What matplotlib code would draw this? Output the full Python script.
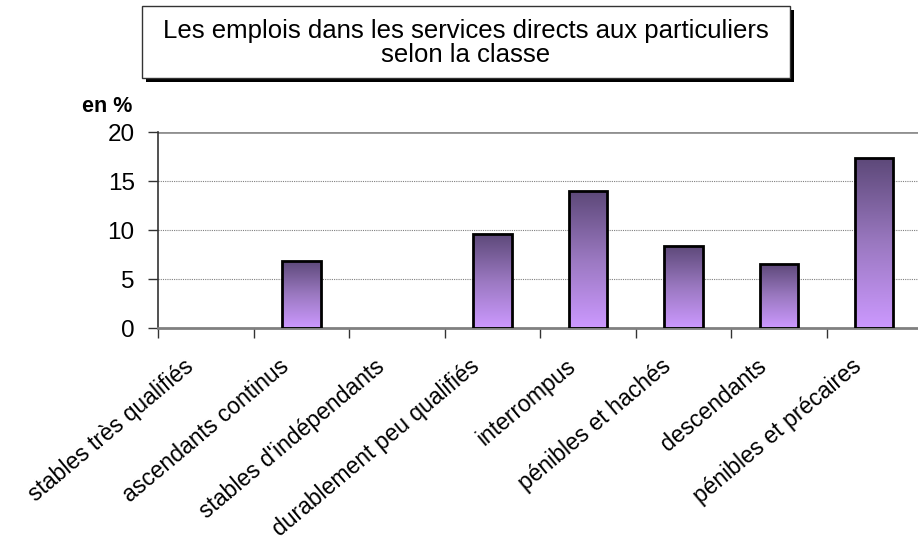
import numpy as np
import matplotlib.pyplot as plt
from matplotlib import patches
from matplotlib.colors import LinearSegmentedColormap

plt.rcParams['font.family'] = ['Liberation Sans', 'DejaVu Sans']

categories = [
    "stables très qualifiés",
    "ascendants continus",
    "stables d'indépendants",
    "durablement peu qualifiés",
    "interrompus",
    "pénibles et hachés",
    "descendants",
    "pénibles et précaires",
]
values = [0, 6.9, 0, 9.6, 14.0, 8.4, 6.6, 17.4]
yticks = [0, 5, 10, 15, 20]

W, H = 918, 541
fig = plt.figure(figsize=(W / 100, H / 100), dpi=100)
ax = fig.add_axes([158.3 / W, 1 - 328.3 / H, (922.1 - 158.3) / W, 196 / H])

x = np.arange(len(categories))
bars = ax.bar(x, values, width=0.4, facecolor="none", edgecolor="black",
              linewidth=2, zorder=3)

# vertical gradient inside each bar, dark at the top
cmap = LinearSegmentedColormap.from_list("lav", ["#cc99ff", "#9a78c0", "#5c4878"])
grad = np.linspace(0, 1, 256).reshape(-1, 1)
for b in bars:
    h = b.get_height()
    if h <= 0:
        b.set_visible(False)
        continue
    x0 = b.get_x()
    im = ax.imshow(grad, cmap=cmap, origin="lower", aspect="auto",
                   extent=(x0, x0 + b.get_width(), 0, h), zorder=2)
    im.set_clip_path(b)

ax.set_xlim(-0.5, len(categories) - 0.5)
ax.set_ylim(0, 20)
ax.set_yticks(yticks)
ax.set_yticklabels([str(v) for v in yticks], fontsize=17.5)

# category boundaries carry the tick marks, labels sit at the centres
ax.set_xticks(np.arange(len(categories) + 1) - 0.5)
ax.set_xticklabels([])
ax.tick_params(axis="x", direction="out", length=7, width=1, color="#333333")
ax.tick_params(axis="y", direction="out", length=7, width=1, color="#333333", pad=10)
for i, name in enumerate(categories):
    ax.text(i - 0.24, -2.7, name, rotation=40, ha="right", va="top",
            rotation_mode="anchor", fontsize=16.5)

for v in yticks[1:-1]:
    ax.axhline(v, color="#808080", linewidth=0.8, linestyle=(0, (1, 1)), zorder=1)
ax.axhline(20, color="#909090", linewidth=2, zorder=1)

for side in ["top", "right"]:
    ax.spines[side].set_visible(False)
ax.spines["left"].set_color("#333333")
ax.spines["left"].set_linewidth(1.2)
ax.spines["bottom"].set_color("#808080")
ax.spines["bottom"].set_linewidth(2)

fig.text(82 / W, 1 - 106 / H, "en %", fontsize=15.5, fontweight="bold",
         ha="left", va="center")

# title box with its drop shadow
bx, by, bw, bh = 142, 6, 648, 72
fig.patches.append(patches.Rectangle(((bx + 4) / W, 1 - (by + bh + 4) / H),
                                     bw / W, bh / H, transform=fig.transFigure,
                                     facecolor="black", edgecolor="none"))
fig.patches.append(patches.Rectangle((bx / W, 1 - (by + bh) / H), bw / W, bh / H,
                                     transform=fig.transFigure, facecolor="white",
                                     edgecolor="#333333", linewidth=1))
fig.text((bx + bw / 2) / W, 1 - (by + bh / 2 + 1) / H,
         "Les emplois dans les services directs aux particuliers\nselon la classe",
         ha="center", va="center", fontsize=18.5, linespacing=1.05)

fig.savefig("out.png", dpi=100)
